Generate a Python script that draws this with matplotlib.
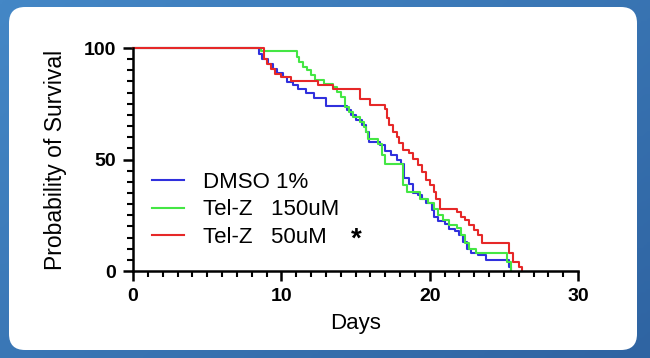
import numpy as np
import matplotlib
matplotlib.use("Agg")
import matplotlib.pyplot as plt
from matplotlib.patches import FancyBboxPatch
from matplotlib.ticker import MultipleLocator

plt.rcParams['font.family'] = ['Liberation Sans', 'DejaVu Sans']

# ===============================
# DATA (Kaplan-Meier steps)
# ===============================

dmso_days = [0, 8.52, 8.72, 9.13, 9.41, 9.69, 10.11, 10.39, 10.81, 11.09, 11.65,
             12.21, 13.04, 14.44, 14.72, 15.06, 15.42, 15.70, 15.92, 16.68, 16.96,
             17.37, 17.79, 18.07, 18.30, 18.63, 18.91, 19.19, 19.47, 19.75, 20.17,
             20.31, 20.59, 21.01, 21.28, 21.70, 21.98, 22.26, 22.54, 22.82, 23.24,
             23.80, 25.34, 25.47]
dmso_surv = [100, 97.5, 95.2, 93, 90.7, 89, 87, 84.8, 83.3, 81.8, 79.6,
             77.6, 74.0, 72, 70, 67.6, 65.4, 62.4, 58, 56.4, 54,
             52, 49.7, 48, 41.5, 39, 34.8, 34, 32.5, 30.3, 27.3,
             24.3, 22.5, 21, 19, 18, 16, 13, 10, 8, 7,
             5, 2, 0]

telz150_days = [0, 8.6, 11.03, 11.17, 11.45, 11.73, 12.01, 12.29, 12.85, 13.46,
                13.74, 14.02, 14.30, 14.58, 14.86, 15.28, 15.56, 15.70, 15.84,
                16.54, 16.82, 16.96, 18.21, 18.49, 19.33, 19.89, 20.31, 20.59,
                20.87, 21.28, 21.84, 22.12, 22.40, 22.68, 23.10, 25.20, 25.47]
telz150_surv = [100, 98.5, 96, 93.7, 91.5, 90, 87.8, 85.5, 84, 82.5,
                80.3, 78, 73.6, 71.3, 69, 66.9, 64.6, 62.4, 59.4,
                57, 52, 48, 38.5, 35.5, 32.5, 30.3, 28, 25,
                22.8, 20.6, 19.1, 16, 12.4, 10, 7.9, 4, 0]

telz50_days = [0, 8.8, 9.0, 9.27, 9.55, 9.97, 10.67, 12.49, 13.46, 15.28, 15.98,
               16.96, 17.09, 17.23, 17.51, 17.79, 17.93, 18.21, 18.63, 18.91,
               19.19, 19.47, 19.75, 20.03, 20.31, 20.45, 20.73, 21.84, 22.12,
               22.40, 22.68, 22.96, 23.24, 23.52, 25.34, 25.61, 26.03, 26.23]
telz50_surv = [100, 95, 93, 90.7, 88.5, 87, 85.4, 83.3, 81.5, 77.3, 74.6,
               72.8, 68.4, 65.4, 62.4, 60, 57.2, 54.2, 52.7, 50.4,
               47.5, 44.5, 40.7, 38.5, 35.5, 32.5, 28, 26.6, 24.3,
               22.8, 20.6, 18.4, 16.1, 12.7, 7.9, 4.2, 1.9, 0]

labels = ["DMSO 1%", "Tel-Z   150uM", "Tel-Z   50uM"]
colors = ["#3030dd", "#44e644", "#e62828"]

# ===============================
# FIGURE + BACKGROUND CARD
# ===============================

W, H = 650, 358
fig = plt.figure(figsize=(W / 100, H / 100), dpi=100)

bg = fig.add_axes([0, 0, 1, 1])
gx, gy = np.meshgrid(np.linspace(0, 1, 200), np.linspace(0, 1, 120))
grad = 0.55 * gx + 0.45 * gy
bg.imshow(grad, cmap=matplotlib.colors.LinearSegmentedColormap.from_list(
    "bgblue", ["#4487c6", "#2f64a2"]), extent=[0, W, H, 0], aspect="auto")
card = FancyBboxPatch((9 + 16, 7 + 16), 628 - 32, 343 - 32,
                      boxstyle="round,pad=16", facecolor="white", edgecolor="none")
bg.add_patch(card)
bg.set_xlim(0, W)
bg.set_ylim(H, 0)
bg.axis("off")

# ===============================
# SURVIVAL CURVES
# ===============================

ax = fig.add_axes([133 / W, (H - 271) / H, 445 / W, 223 / H])
ax.patch.set_alpha(0)

series = [(dmso_days, dmso_surv), (telz150_days, telz150_surv), (telz50_days, telz50_surv)]
for (d, s), lab, c in zip(series, labels, colors):
    ax.step(d, s, where="post", color=c, lw=1.5, label=lab, clip_on=False)

ax.set_xlim(0, 30)
ax.set_ylim(0, 100)
ax.set_xticks([0, 10, 20, 30])
ax.set_yticks([0, 50, 100])
ax.xaxis.set_minor_locator(MultipleLocator(1))
ax.yaxis.set_minor_locator(MultipleLocator(5))

for side in ["top", "right"]:
    ax.spines[side].set_visible(False)
for side in ["left", "bottom"]:
    ax.spines[side].set_linewidth(1.8)

ax.tick_params(which="major", length=7, width=1.8, pad=5, labelsize=14)
ax.tick_params(which="minor", length=4.5, width=1.5)
for t in ax.get_xticklabels() + ax.get_yticklabels():
    t.set_fontweight("bold")

ax.set_xlabel("Days", fontsize=16, labelpad=6)
ax.set_ylabel("Probability of Survival", fontsize=16.5, labelpad=12)

leg = ax.legend(loc="upper left", bbox_to_anchor=(0.043, 0.445), frameon=False,
                borderpad=0, borderaxespad=0, fontsize=16, handlelength=1.45,
                handletextpad=0.85, labelspacing=0.3)
for line in leg.get_lines():
    line.set_linewidth(1.5)

ax.text(0.49, 0.14, "*", transform=ax.transAxes, fontsize=20, fontweight="bold",
        ha="left", va="center")

fig.savefig("out.png", dpi=100)
